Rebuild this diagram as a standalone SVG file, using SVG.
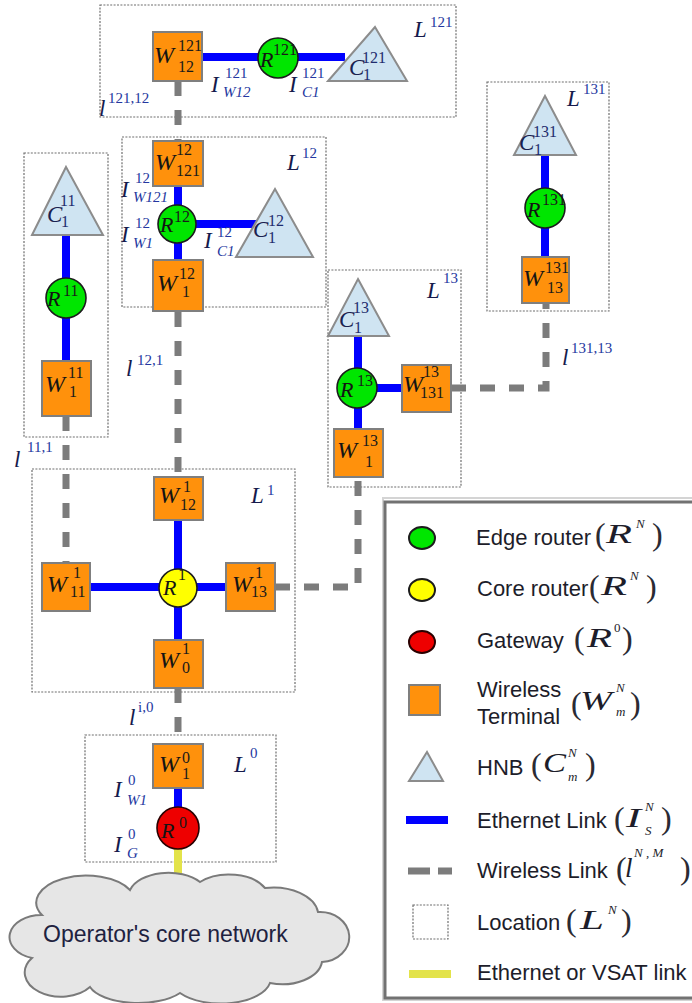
<svg xmlns="http://www.w3.org/2000/svg" width="692" height="1003" viewBox="0 0 692 1003">
<style>
.loc{fill:none;stroke:#6e6e6e;stroke-width:1.2;stroke-dasharray:2 1.4}
.eth{stroke:#0000ff;stroke-width:8;fill:none}
.wl{stroke:#7c7c7c;stroke-width:7;fill:none;stroke-dasharray:15 14}
.vs{stroke:#e3e34a;stroke-width:8;fill:none}
.wt{fill:#ff910c;stroke:#7f7f7f;stroke-width:2}
.er{fill:#00e600;stroke:#1c1c1c;stroke-width:1.6}
.cr{fill:#ffff00;stroke:#1c1c1c;stroke-width:1.6}
.gw{fill:#ee0000;stroke:#2a0000;stroke-width:1.6}
.hnb{fill:#cfe4f2;stroke:#8c8c8c;stroke-width:2}
.v{font-family:"Liberation Serif",serif;font-style:italic;font-size:24px;fill:#141414}
.s{font-family:"Liberation Serif",serif;font-size:16px;fill:#1a1a1a}
.cv{font-family:"Liberation Serif",serif;font-style:italic;font-size:23px;fill:#1a2250}
.cs{font-family:"Liberation Serif",serif;font-size:16px;fill:#1f2d6e}
.lv{font-family:"Liberation Serif",serif;font-style:italic;font-size:23px;fill:#151a4c}
.ls{font-family:"Liberation Serif",serif;font-size:15px;fill:#2437a0}
.lsi{font-family:"Liberation Serif",serif;font-style:italic;font-size:15px;fill:#2437a0}
.t{font-family:"Liberation Sans",Arial,sans-serif;font-size:22px;fill:#1d1d2a}
.p{font-family:"Liberation Serif",serif;font-size:32px;fill:#2a2a33}
.m{font-family:"Liberation Serif",serif;font-style:italic;font-size:27px;fill:#1d1d2a}
.ms{font-family:"Liberation Serif",serif;font-style:italic;font-size:13px;fill:#1d1d2a}
</style>

<g id="locations">
<rect id="L121" class="loc" x="100" y="5" width="356" height="112"/>
<rect id="L12" class="loc" x="122" y="137" width="204" height="170"/>
<rect id="L11" class="loc" x="24" y="153" width="84" height="284"/>
<rect id="L131" class="loc" x="487" y="82" width="122" height="229"/>
<rect id="L13" class="loc" x="328" y="270" width="133" height="217"/>
<rect id="L1" class="loc" x="32" y="469" width="263" height="223"/>
<rect id="L0" class="loc" x="85" y="735" width="191" height="127"/>
</g>

<g id="connectors">
<line class="eth" x1="202" y1="57" x2="345" y2="57"/>
<line class="eth" x1="178" y1="186" x2="178" y2="260"/>
<line class="eth" x1="178" y1="224" x2="258" y2="224"/>
<line class="eth" x1="66" y1="235" x2="66" y2="361"/>
<line class="eth" x1="545" y1="155" x2="545" y2="257"/>
<line class="eth" x1="358" y1="336" x2="358" y2="429"/>
<line class="eth" x1="358" y1="388" x2="402" y2="388"/>
<line class="eth" x1="178" y1="520" x2="178" y2="640"/>
<line class="eth" x1="90" y1="587" x2="226" y2="587"/>
<line class="eth" x1="178" y1="788" x2="178" y2="810"/>
<line class="vs" x1="178" y1="846" x2="178" y2="875"/>
<line class="wl" x1="178" y1="81" x2="178" y2="141"/>
<line class="wl" x1="178" y1="312" x2="178" y2="477"/>
<line class="wl" x1="66" y1="416" x2="66" y2="563"/>
<polyline class="wl" points="275,587 358,587 358,477"/>
<polyline class="wl" points="451,388 546,388 546,303"/>
<line class="wl" x1="178" y1="688" x2="178" y2="744"/>
</g>

<g id="W121_12"><rect class="wt" x="153" y="32" width="49" height="49"/>
<text class="v" x="154" y="63">W</text><text class="s" x="178" y="51">121</text><text class="s" x="178" y="72">12</text></g>
<g id="R121"><circle class="er" cx="278" cy="58" r="20"/>
<text class="v" x="260" y="67" style="font-size:22px">R</text><text class="s" x="273" y="55">121</text></g>
<g id="C121"><polygon class="hnb" points="375,27 407,81 328,81"/>
<text class="cv" x="349" y="75">C</text><text class="cs" x="362" y="63">121</text><text class="cs" x="363" y="80">1</text></g>

<g id="W12_121"><rect class="wt" x="153" y="141" width="50" height="45"/>
<text class="v" x="155" y="170">W</text><text class="s" x="176" y="155">12</text><text class="s" x="176" y="176">121</text></g>
<g id="R12"><circle class="er" cx="177" cy="224" r="19"/>
<text class="v" x="160" y="232" style="font-size:22px">R</text><text class="s" x="174" y="222">12</text></g>
<g id="C12"><polygon class="hnb" points="275,189 313,257 236,257"/>
<text class="cv" x="253" y="237">C</text><text class="cs" x="268" y="226">12</text><text class="cs" x="268" y="243">1</text></g>
<g id="W1_12"><rect class="wt" x="153" y="260" width="50" height="51"/>
<text class="v" x="157" y="291">W</text><text class="s" x="179" y="279">12</text><text class="s" x="182" y="297">1</text></g>

<g id="C11"><polygon class="hnb" points="66,167 103,235 32,235"/>
<text class="cv" x="47" y="222">C</text><text class="cs" x="60" y="206">11</text><text class="cs" x="61" y="227">1</text></g>
<g id="R11"><circle class="er" cx="66" cy="298" r="20"/>
<text class="v" x="47" y="306" style="font-size:22px">R</text><text class="s" x="63" y="296">11</text></g>
<g id="W11_1"><rect class="wt" x="42" y="361" width="49" height="55"/>
<text class="v" x="45" y="392">W</text><text class="s" x="68" y="378">11</text><text class="s" x="69" y="397">1</text></g>

<g id="C131"><polygon class="hnb" points="545,96 576,155 514,155"/>
<text class="cv" x="519" y="150">C</text><text class="cs" x="533" y="137">131</text><text class="cs" x="534" y="155">1</text></g>
<g id="R131"><circle class="er" cx="545" cy="208" r="20"/>
<text class="v" x="527" y="217" style="font-size:22px">R</text><text class="s" x="542" y="205">131</text></g>
<g id="W13_131"><rect class="wt" x="522" y="257" width="47" height="46"/>
<text class="v" x="523" y="286">W</text><text class="s" x="545" y="273">131</text><text class="s" x="547" y="293">13</text></g>

<g id="C13"><polygon class="hnb" points="358,279 389,336 328,336"/>
<text class="cv" x="339" y="327">C</text><text class="cs" x="353" y="313">13</text><text class="cs" x="354" y="333">1</text></g>
<g id="R13"><circle class="er" cx="357" cy="388" r="20"/>
<text class="v" x="340" y="397" style="font-size:22px">R</text><text class="s" x="357" y="386">13</text></g>
<g id="W131_13"><rect class="wt" x="402" y="365" width="49" height="47"/>
<text class="v" x="403" y="392">W</text><text class="s" x="423" y="377">13</text><text class="s" x="420" y="398">131</text></g>
<g id="W1_13"><rect class="wt" x="334" y="429" width="49" height="48"/>
<text class="v" x="337" y="458">W</text><text class="s" x="362" y="446">13</text><text class="s" x="365" y="467">1</text></g>

<g id="W12_1"><rect class="wt" x="154" y="477" width="49" height="43"/>
<text class="v" x="159" y="503">W</text><text class="s" x="183" y="492">1</text><text class="s" x="180" y="510">12</text></g>
<g id="W11_1b"><rect class="wt" x="42" y="563" width="48" height="48"/>
<text class="v" x="47" y="592">W</text><text class="s" x="73" y="578">1</text><text class="s" x="70" y="597">11</text></g>
<g id="R1"><circle class="cr" cx="178" cy="588" r="19"/>
<text class="v" x="163" y="595" style="font-size:22px">R</text><text class="s" x="178" y="580">1</text></g>
<g id="W13_1"><rect class="wt" x="226" y="563" width="49" height="48"/>
<text class="v" x="232" y="592">W</text><text class="s" x="255" y="578">1</text><text class="s" x="251" y="597">13</text></g>
<g id="W0_1"><rect class="wt" x="154" y="640" width="49" height="48"/>
<text class="v" x="159" y="668">W</text><text class="s" x="182" y="654">1</text><text class="s" x="182" y="673">0</text></g>

<g id="W1_0"><rect class="wt" x="153" y="744" width="50" height="44"/>
<text class="v" x="159" y="772">W</text><text class="s" x="182" y="763">0</text><text class="s" x="182" y="779">1</text></g>
<g id="R0"><circle class="gw" cx="178" cy="828" r="21"/>
<text class="v" x="161" y="838" style="font-size:22px">R</text><text class="s" x="179" y="828">0</text></g>

<g id="labels">
<text class="lv" x="414" y="37">L</text><text class="ls" x="430" y="27">121</text>
<text class="lv" x="211" y="92">I</text><text class="ls" x="225" y="78">121</text><text class="lsi" x="223" y="97">W12</text>
<text class="lv" x="289" y="92">I</text><text class="ls" x="302" y="78">121</text><text class="lsi" x="302" y="97">C1</text>
<text class="lv" x="99" y="116">l</text><text class="ls" x="108" y="103">121,12</text>
<text class="lv" x="287" y="170">L</text><text class="ls" x="302" y="158">12</text>
<text class="lv" x="121" y="197">I</text><text class="ls" x="135" y="183">12</text><text class="lsi" x="133" y="202">W121</text>
<text class="lv" x="121" y="242">I</text><text class="ls" x="135" y="228">12</text><text class="lsi" x="133" y="248">W1</text>
<text class="lv" x="204" y="248">I</text><text class="ls" x="217" y="237">12</text><text class="lsi" x="217" y="256">C1</text>
<text class="lv" x="567" y="106">L</text><text class="ls" x="583" y="94">131</text>
<text class="lv" x="427" y="298">L</text><text class="ls" x="443" y="283">13</text>
<text class="lv" x="562" y="365">l</text><text class="ls" x="571" y="353">131,13</text>
<text class="lv" x="126" y="376">l</text><text class="ls" x="137" y="365">12,1</text>
<text class="lv" x="14" y="467">l</text><text class="ls" x="27" y="452">11,1</text>
<text class="lv" x="251" y="503">L</text><text class="ls" x="267" y="495">1</text>
<text class="lv" x="129" y="725">l</text><text class="ls" x="138" y="712">i,0</text>
<text class="lv" x="234" y="772">L</text><text class="ls" x="250" y="758">0</text>
<text class="lv" x="114" y="797">I</text><text class="ls" x="128" y="785">0</text><text class="lsi" x="127" y="805">W1</text>
<text class="lv" x="114" y="852">I</text><text class="ls" x="128" y="839">0</text><text class="lsi" x="127" y="858">G</text>
</g>

<g id="cloud">
<path d="M32,958 A32 22 0 0 1 42,915 A48 26 0 0 1 130,890 A40 24 0 0 1 200,882 A40 24 0 0 1 265,888 A45 28 0 0 1 318,912 A28 24 0 0 1 322,962 A40 25 0 0 1 270,983 A50 25 0 0 1 180,993 A50 22 0 0 1 90,987 A30 20 0 0 1 32,958 Z" fill="#e6e6e6" stroke="#7a7a7a" stroke-width="2"/>
<text class="t" x="43" y="942" style="font-size:23px;fill:#1e2240">Operator's core network</text>
</g>

<g id="legend">
<rect x="383" y="498" width="330" height="502" fill="none" stroke="#d4d4d4" stroke-width="2"/>
<rect x="385" y="502" width="320" height="496" fill="#ffffff" stroke="#727272" stroke-width="3"/>
<ellipse class="er" cx="422" cy="538" rx="13" ry="11" style="stroke-width:2"/>
<text class="t" x="476" y="545">Edge router</text>
<text class="p" x="595" y="545">(</text><text class="m" x="606" y="543" textLength="26" lengthAdjust="spacingAndGlyphs">R</text><text class="ms" x="636" y="528">N</text><text class="p" x="652" y="545">)</text>
<ellipse class="cr" cx="422" cy="590" rx="13" ry="11" style="stroke-width:2"/>
<text class="t" x="477" y="596">Core router</text>
<text class="p" x="589" y="597">(</text><text class="m" x="601" y="595" textLength="26" lengthAdjust="spacingAndGlyphs">R</text><text class="ms" x="630" y="580">N</text><text class="p" x="646" y="597">)</text>
<ellipse class="gw" cx="422" cy="642" rx="13" ry="11" style="stroke-width:2"/>
<text class="t" x="477" y="648">Gateway</text>
<text class="p" x="574" y="649">(</text><text class="m" x="587" y="647" textLength="25" lengthAdjust="spacingAndGlyphs">R</text><text class="ms" x="614" y="632" style="font-style:normal">0</text><text class="p" x="622" y="649">)</text>
<rect class="wt" x="409" y="685" width="31" height="30"/>
<text class="t" x="477" y="697">Wireless</text>
<text class="t" x="477" y="724">Terminal</text>
<text class="p" x="571" y="714">(</text><text class="m" x="580" y="710" textLength="32" lengthAdjust="spacingAndGlyphs">W</text><text class="ms" x="616" y="692">N</text><text class="ms" x="616" y="716">m</text><text class="p" x="630" y="714">)</text>
<polygon class="hnb" points="427,752 443,781 409,781"/>
<text class="t" x="477" y="775">HNB</text>
<text class="p" x="531" y="775">(</text><text class="m" x="543" y="772" textLength="23" lengthAdjust="spacingAndGlyphs">C</text><text class="ms" x="568" y="757">N</text><text class="ms" x="568" y="781">m</text><text class="p" x="585" y="775">)</text>
<line x1="406" y1="820" x2="448" y2="820" stroke="#0000ff" stroke-width="8"/>
<text class="t" x="477" y="828">Ethernet Link</text>
<text class="p" x="614" y="829">(</text><text class="m" x="626" y="827" textLength="15" lengthAdjust="spacingAndGlyphs">I</text><text class="ms" x="645" y="811">N</text><text class="ms" x="645" y="835">S</text><text class="p" x="661" y="829">)</text>
<line x1="408" y1="871" x2="452" y2="871" stroke="#7c7c7c" stroke-width="7" stroke-dasharray="22 8"/>
<text class="t" x="477" y="878">Wireless Link</text>
<text class="p" x="616" y="879">(</text><text class="m" x="625" y="877">l</text><text class="ms" x="634" y="857">N , M</text><text class="p" x="680" y="879">)</text>
<rect class="loc" x="413" y="905" width="35" height="34"/>
<text class="t" x="477" y="930">Location</text>
<text class="p" x="566" y="931">(</text><text class="m" x="580" y="929" textLength="24" lengthAdjust="spacingAndGlyphs">L</text><text class="ms" x="608" y="914">N</text><text class="p" x="621" y="931">)</text>
<line x1="409" y1="974" x2="451" y2="974" stroke="#e3e34a" stroke-width="8"/>
<text class="t" x="477" y="980">Ethernet or VSAT link</text>
</g>
</svg>
